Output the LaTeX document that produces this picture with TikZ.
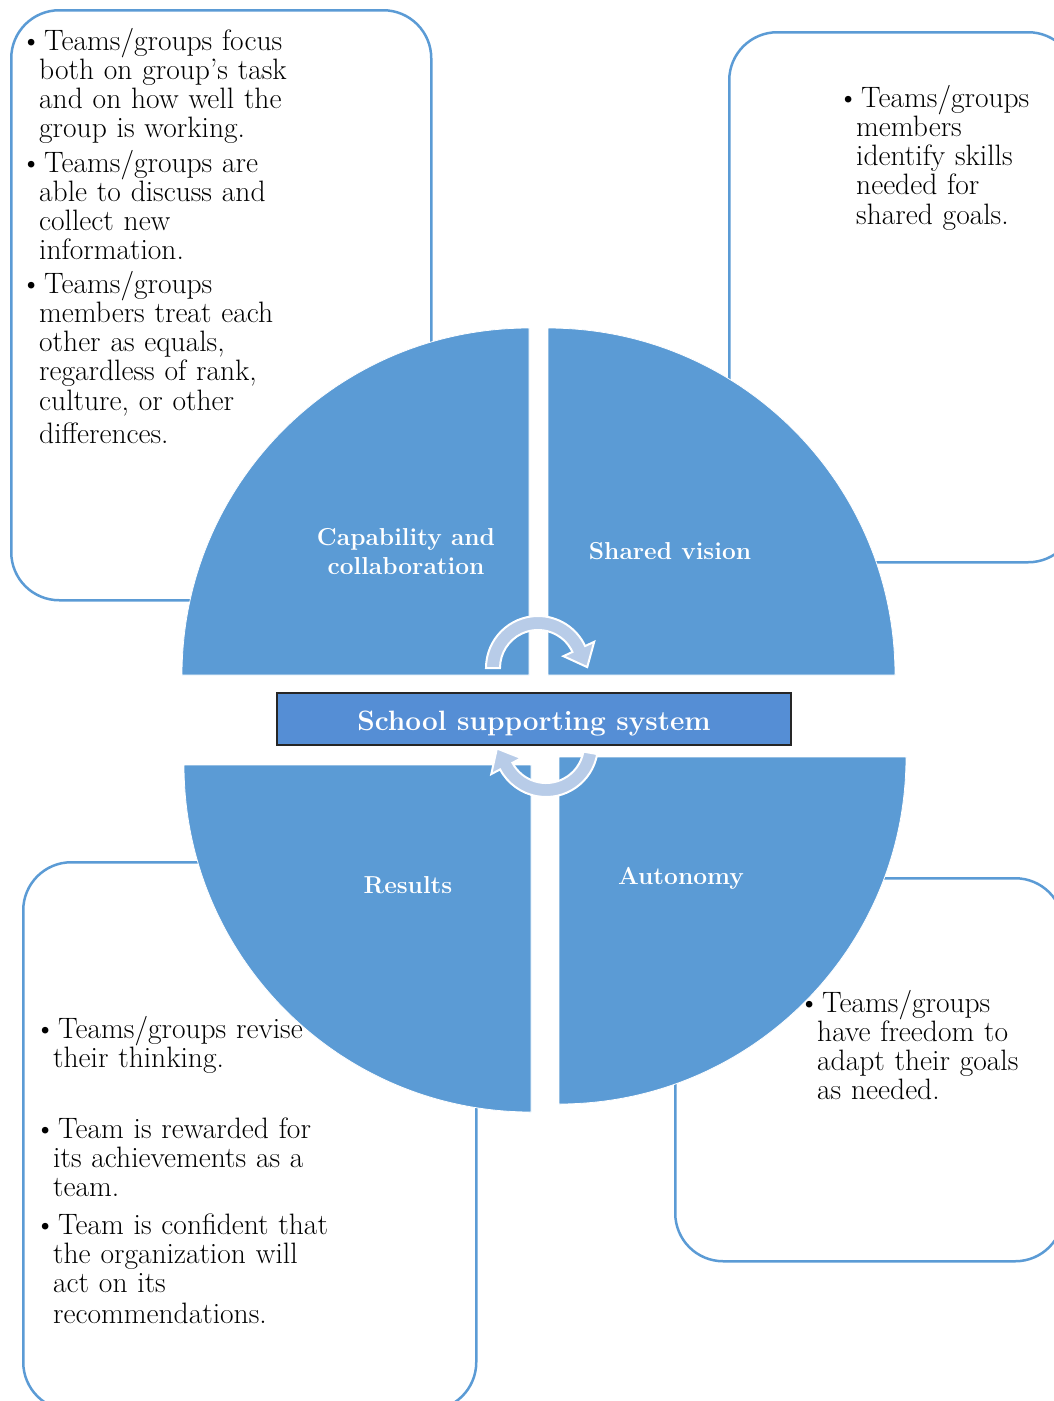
\documentclass[tikz,border=0pt]{standalone}
\usepackage{fontspec}
\usetikzlibrary{calc}
\definecolor{qblue}{HTML}{5B9BD5}
\definecolor{cblue}{HTML}{558ED5}
\definecolor{afill}{HTML}{B8CCE8}
\newcommand{\mybul}{\makebox[0pt][r]{\textbullet\kern-2.6pt}\hspace{5pt}}
\tikzset{
  bigbox/.style={draw=qblue, line width=2.5pt, fill=white, rounded corners=48pt, inner sep=0pt},
  quarter/.style={fill=qblue, draw=white, line width=0.8pt},
  cyc/.style={fill=afill, draw=white, line width=2pt, line join=miter},
  bodytext/.style={anchor=base west, inner sep=0pt, text width=420pt, align=left,
    font=\fontsize{29.5}{29.3}\selectfont, text=black},
  qlabel/.style={text=white, font=\bfseries\fontsize{24.5}{29}\selectfont, align=center, inner sep=0pt},
  hub/.style={draw=black!85, line width=1.2pt, fill=cblue, minimum width=514pt, minimum height=52pt,
    text=white, font=\bfseries\fontsize{28}{30}\selectfont, inner sep=0pt, text height=24pt, text depth=2pt},
}
\begin{document}
\begin{tikzpicture}[x=1pt, y=-1pt]
\useasboundingbox (0,0) rectangle (1054,1401);
\begin{scope}
\clip (0,0) rectangle (1054,1401);
% outline boxes
\node[bigbox, anchor=north west, minimum width=420pt, minimum height=590pt] (boxTL) at (10,9) {};
\node[bigbox, anchor=north west, minimum width=347pt, minimum height=530pt] (boxTR) at (728,31) {};
\node[bigbox, anchor=north west, minimum width=453pt, minimum height=548pt] (boxBL) at (22,861) {};
\node[bigbox, anchor=north west, minimum width=388pt, minimum height=383pt] (boxBR) at (674,877) {};
% quarter centres
\coordinate (cTL) at (529,675);
\coordinate (cTR) at (548,675);
\coordinate (cBR) at (559,757);
\coordinate (cBL) at (531,765);
\fill[quarter] (cTL) -- ($(cTL)+(180:347)$) arc[start angle=180, end angle=270, radius=347] -- cycle;
\fill[quarter] (cTR) -- ($(cTR)+(270:347)$) arc[start angle=270, end angle=360, radius=347] -- cycle;
\fill[quarter] (cBR) -- ($(cBR)+(0:347)$) arc[start angle=0, end angle=90, radius=347] -- cycle;
\fill[quarter] (cBL) -- ($(cBL)+(90:347)$) arc[start angle=90, end angle=180, radius=347] -- cycle;
% circular arrows
\coordinate (aT) at (538,668);
\filldraw[cyc] ($(aT)+(180:52)$) arc[start angle=180, end angle=335, radius=52]
  -- ($(aT)+(335:62)$) -- ($(aT)+(335:45)+(65:20)$) -- ($(aT)+(335:28)$)
  -- ($(aT)+(335:38)$) arc[start angle=335, end angle=180, radius=38] -- cycle;
\coordinate (aB) at (546,745);
\filldraw[cyc] ($(aB)+(10:52)$) arc[start angle=10, end angle=152, radius=52]
  -- ($(aB)+(152:62)$) -- ($(aB)+(152:45)+(242:20)$) -- ($(aB)+(152:28)$)
  -- ($(aB)+(152:38)$) arc[start angle=152, end angle=10, radius=38] -- cycle;
% hub
\node[hub] (hub) at (534,719) {School supporting system};
% quarter labels
\node[qlabel] (lcap) at (406,552) {Capability and\\collaboration};
\node[qlabel] (lvis) at (670,551) {Shared vision};
\node[qlabel] (lres) at (408,885) {Results};
\node[qlabel] (laut) at (681,878) {Autonomy};
% box texts
\node[bodytext] (tl1) at (39,50) {\mybul Teams/groups focus\\both on group’s task\\and on how well the\\group is working.};
\node[bodytext] (tl2) at (39,172) {\mybul Teams/groups are\\able to discuss and\\collect new\\information.};
\node[bodytext] (tl3) at (39,293) {\mybul Teams/groups\\members treat each\\other as equals,\\regardless of rank,\\culture, or other\\[4pt]differences.};
\node[bodytext] (tr1) at (856,107) {\mybul Teams/groups\\members\\identify skills\\needed for\\shared goals.};
\node[bodytext] (br1) at (817,1012) {\mybul Teams/groups\\have freedom to\\adapt their goals\\as needed.};
\node[bodytext] (bl1) at (53,1038) {\mybul Teams/groups revise\\their thinking.};
\node[bodytext] (bl2) at (53,1138) {\mybul Team is rewarded for\\its achievements as a\\team.};
\node[bodytext] (bl3) at (53,1234) {\mybul Team is confident that\\the organization will\\act on its\\[2pt]recommendations.};
\end{scope}
\end{tikzpicture}
\end{document}
